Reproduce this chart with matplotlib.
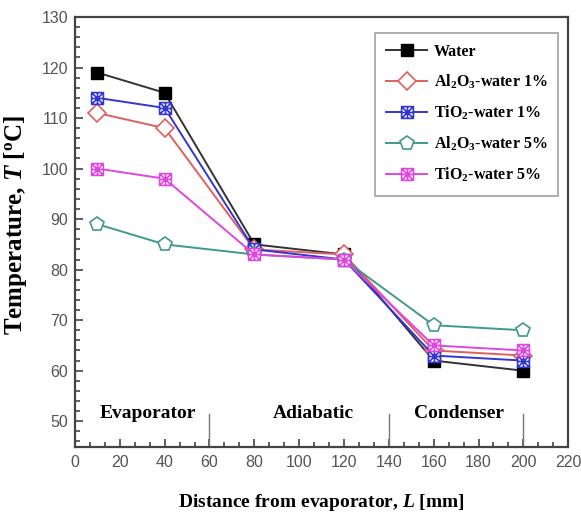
import matplotlib
matplotlib.use("Agg")
import matplotlib.pyplot as plt
import numpy as np
from matplotlib.path import Path
from matplotlib.ticker import MultipleLocator

plt.rcParams['mathtext.fontset'] = 'custom'
plt.rcParams['mathtext.rm'] = 'Liberation Serif:bold'
plt.rcParams['mathtext.it'] = 'Liberation Serif:italic:bold'
plt.rcParams['mathtext.bf'] = 'Liberation Serif:bold'

distance = [10, 40, 80, 120, 160, 200]
water = [119, 115, 85, 83, 62, 60]
al2o3_1 = [111, 108, 84, 83, 64, 63]
tio2_1 = [114, 112, 84, 82, 63, 62]
al2o3_5 = [89, 85, 83, 82, 69, 68]
tio2_5 = [100, 98, 83, 82, 65, 64]

labels = ['Water', 'Al$_2$O$_3$-water 1%', 'TiO$_2$-water 1%',
          'Al$_2$O$_3$-water 5%', 'TiO$_2$-water 5%']
regions = ['Evaporator', 'Adiabatic', 'Condenser']
region_x = [32.5, 106.5, 171.5]
boundaries = [60, 140, 200]

# square with X and + inside
v = [(-1, -1), (1, -1), (1, 1), (-1, 1), (-1, -1),
     (-1, -1), (1, 1), (-1, 1), (1, -1),
     (0, -1), (0, 1), (-1, 0), (1, 0)]
c = [Path.MOVETO, Path.LINETO, Path.LINETO, Path.LINETO, Path.CLOSEPOLY,
     Path.MOVETO, Path.LINETO, Path.MOVETO, Path.LINETO,
     Path.MOVETO, Path.LINETO, Path.MOVETO, Path.LINETO]
xsq = Path(v, c)

fig = plt.figure(figsize=(5.81, 5.15), dpi=100)
ax = fig.add_axes([0.129, 0.133, 0.849, 0.834])

series = [water, al2o3_1, tio2_1, al2o3_5, tio2_5]
colors = ['#333333', '#e06060', '#3535d0', '#3f9a8c', '#e045e0']
markers = ['s', 'D', xsq, 'p', xsq]
sizes = [8, 9, 8.5, 10, 8.5]
for y, lab, col, mk, ms in zip(series, labels, colors, markers, sizes):
    if mk == 's':
        ax.plot(distance, y, color=col, marker=mk, ms=ms, mfc='black', mec='black',
                lw=1.4, label=lab)
    else:
        ax.plot(distance, y, color=col, marker=mk, ms=ms, mfc='white', mec=col,
                mew=1.2, lw=1.4, label=lab)

for b in boundaries:
    ax.plot([b, b], [45, 51.5], color='#777777', lw=1.0)

for t, xx in zip(regions, region_x):
    ax.text(xx, 51.6, t, ha='center', va='center', fontsize=14,
            fontweight='bold', family='Liberation Serif')

ax.set_xlim(0, 220)
ax.set_ylim(45, 130)
ax.xaxis.set_major_locator(MultipleLocator(20))
ax.xaxis.set_minor_locator(MultipleLocator(20 / 3))
ax.set_yticks(np.arange(50, 131, 10))
ax.yaxis.set_minor_locator(MultipleLocator(2))
ax.tick_params(which='both', direction='in', colors='#444444', labelcolor='#555555',
               labelsize=11.5)
ax.tick_params(which='major', length=6, width=1.2)
ax.tick_params(which='minor', length=3.5, width=1.2)
ax.tick_params(axis='y', pad=5)
ax.tick_params(axis='x', pad=6)
for lbl in ax.get_xticklabels() + ax.get_yticklabels():
    lbl.set_family('Liberation Sans')
for s in ax.spines.values():
    s.set_color('#444444')
    s.set_linewidth(1.6)

ax.set_xlabel('Distance from evaporator, $L$ [mm]', fontsize=14, fontweight='bold',
              family='Liberation Serif', labelpad=16)
fig.text(16 / 581, 1 - 225 / 515, 'Temperature, $T$ [$^{\\mathrm{o}}$C]', rotation=90,
         ha='center', va='center', fontsize=18, fontweight='bold',
         family='Liberation Serif')

leg = ax.legend(loc='upper right', bbox_to_anchor=(0.99, 0.975),
                prop={'family': 'Liberation Serif', 'weight': 'bold', 'size': 11.5},
                frameon=True, fancybox=False, edgecolor='#999999',
                borderpad=0.7, labelspacing=0.8, handlelength=2.6, handletextpad=0.4,
                borderaxespad=0.3)
leg.get_frame().set_linewidth(1.4)

fig.savefig('out.png', dpi=100)
